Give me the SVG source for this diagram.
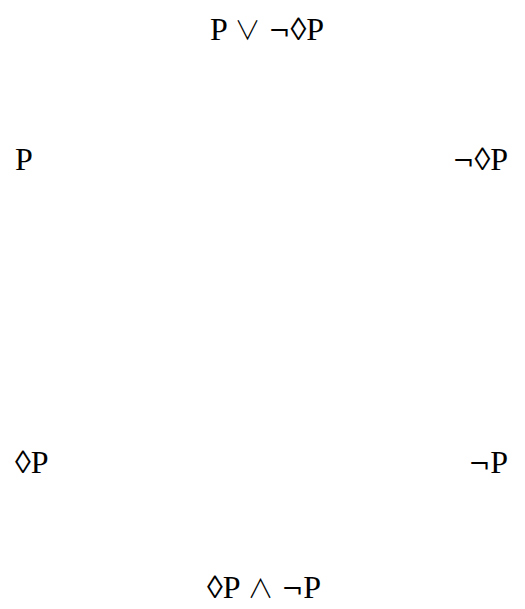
<svg xmlns="http://www.w3.org/2000/svg" width="525" height="609" viewBox="0 0 525 609">
<style>
text{font-family:"Liberation Serif","Times New Roman","DejaVu Serif",serif;font-size:32px;fill:#000}
.op{font-family:"Noto Sans CJK JP","Noto Sans CJK SC",sans-serif;font-weight:300;font-size:26px}
.neg{font-family:"DejaVu Serif",serif;font-size:26px}
</style>
<rect width="525" height="609" fill="#fff"/>
<g id="connectors"></g>
<g id="n-top"><text x="267" y="40" text-anchor="middle">P <tspan class="op">∨</tspan> <tspan class="neg">¬</tspan>◊P</text></g>
<g id="n-p"><text x="15" y="170">P</text></g>
<g id="n-nposs"><text x="508" y="170" text-anchor="end"><tspan class="neg">¬</tspan>◊P</text></g>
<g id="n-poss"><text x="15" y="473">◊P</text></g>
<g id="n-np"><text x="508" y="473" text-anchor="end"><tspan class="neg">¬</tspan>P</text></g>
<g id="n-bottom"><text x="264" y="598" text-anchor="middle">◊P <tspan class="op">∧</tspan> <tspan class="neg">¬</tspan>P</text></g>
</svg>
